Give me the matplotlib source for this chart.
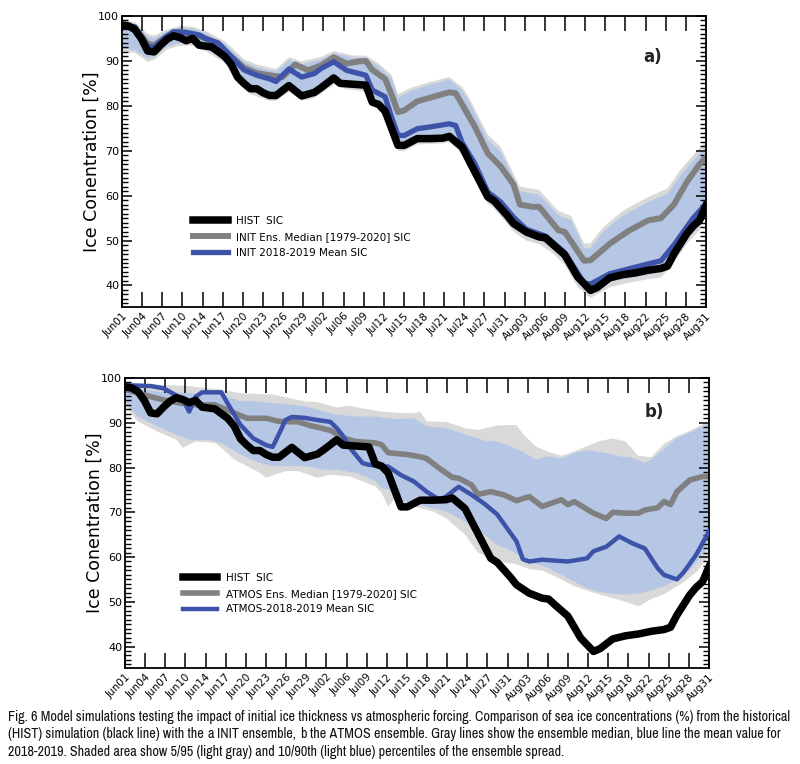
import numpy as np
import matplotlib
matplotlib.use("Agg")
import matplotlib.pyplot as plt
from matplotlib.ticker import MultipleLocator
from matplotlib import font_manager

# ---------------- data (day index 0 = Jun01 ... 91 = Aug31) ----------------
tick_labels = ["Jun01", "Jun04", "Jun07", "Jun10", "Jun14", "Jun17", "Jun20", "Jun23",
               "Jun26", "Jun29", "Jul02", "Jul06", "Jul09", "Jul12", "Jul15", "Jul18",
               "Jul21", "Jul24", "Jul27", "Jul31", "Aug03", "Aug06", "Aug09", "Aug12",
               "Aug15", "Aug18", "Aug22", "Aug25", "Aug28", "Aug31"]

hist_day = [0, 1, 2, 3, 4, 5, 6, 7, 8, 9, 10, 11, 12, 14, 16, 17, 18, 19, 20, 21, 22, 23, 24,
            26, 28, 30, 31, 33, 34, 36, 38, 39, 40, 41, 43, 44, 46, 48, 50, 51, 53, 54, 57,
            58, 60, 61, 63, 65, 66, 67, 69, 71, 73, 74, 76, 78, 80, 82, 84, 85, 86, 88, 89,
            90, 91]
hist_val = [98, 97.8, 97, 95, 92.2, 92, 93.5, 94.8, 95.6, 95.2, 94.5, 95, 93.5, 93.1, 91,
            89.3, 86.4, 85, 83.8, 83.8, 82.9, 82.3, 82.3, 84.5, 82.2, 83, 84, 86.2, 85, 84.8,
            84.6, 80.8, 80.3, 78.8, 71.2, 71.2, 72.7, 72.7, 72.8, 73.2, 70.8, 68, 59.7, 58.8,
            55.6, 53.8, 51.9, 50.8, 50.6, 49.3, 46.8, 41.9, 38.9, 39.5, 41.7, 42.4, 42.8,
            43.4, 43.8, 44.3, 47, 51.5, 53.2, 54.5, 57.8]

# panel a: INIT ensemble
init_med_day = [0, 2, 4, 5, 7, 9, 11, 13, 15, 17, 19, 21, 23, 25, 27, 29, 31, 33, 35, 37, 38,
                39, 41, 42, 43, 44, 46, 48, 51, 52, 55, 57, 59, 61, 62, 64, 65, 68, 69, 72,
                73, 76, 79, 82, 84, 86, 88, 90, 91]
init_med_val = [98, 97.3, 93.8, 93.5, 95.5, 96.5, 96, 95, 93.8, 91, 88.5, 87.3, 86.8, 86.4,
                89.2, 87.9, 89, 90.8, 89.4, 89.9, 90, 88, 86, 82.5, 78.6, 79, 81, 81.8, 83,
                82.8, 75.3, 69.4, 66.5, 62.5, 58, 57.5, 57.5, 52.3, 51.9, 45.5, 45.6, 49.3,
                52.2, 54.5, 55, 58, 63, 67, 68.5]

init_mean_day = [0, 2, 4, 5, 7, 8, 10, 12, 13, 15, 17, 19, 21, 23, 24, 26, 28, 30, 31, 33,
                 35, 38, 39, 41, 42, 43, 44, 46, 48, 51, 52, 53, 55, 57, 59, 61, 63, 66, 69,
                 72, 73, 76, 79, 82, 84, 86, 88, 89, 91]
init_mean_val = [98, 97.6, 93.2, 93, 95.5, 96.5, 96.3, 95.8, 95, 94, 91, 88, 86.8, 86, 85.4,
                 88.2, 86.4, 87.2, 88.3, 89.8, 87.9, 86.8, 83.5, 82, 77.5, 73.4, 73.4, 74.9,
                 75.3, 76, 75.6, 71.8, 67.1, 60.8, 58.6, 55.2, 52.5, 51, 47.3, 40.5, 40.3,
                 42.6, 43.7, 44.8, 45.5, 49, 53, 55, 58.2]

init_up_day = [0, 2, 4, 5, 7, 9, 11, 13, 16, 19, 21, 24, 26, 28, 31, 33, 36, 38, 40, 42, 43,
               45, 48, 51, 53, 54, 57, 59, 62, 65, 68, 70, 72, 73, 75, 78, 82, 85, 87, 90, 91]
init_p90 = [98.6, 98.2, 95.5, 95, 96.5, 97.4, 97.2, 96.2, 93.8, 89.8, 88.6, 87.6, 90.2, 89.3,
            90.3, 91.7, 90.7, 90.7, 88.8, 86.2, 81.8, 83.3, 84.7, 85.8, 83.5, 81.2, 72.5,
            69.8, 61, 60.2, 55.6, 54.5, 48.3, 48.3, 52, 55.5, 58.6, 60.4, 64.5, 69.4, 70.8]
init_p95 = [99, 98.6, 96, 95.6, 97, 97.8, 97.6, 96.7, 94.4, 90.4, 89.2, 88.2, 90.8, 89.9,
            90.9, 92.2, 91.2, 91.2, 89.4, 86.9, 82.6, 84, 85.3, 86.4, 84.2, 82, 73.6, 70.8,
            62, 61.3, 56.6, 55.5, 49.3, 49.4, 53, 56.6, 59.7, 61.6, 65.7, 70.6, 72]

init_lo_day = [0, 2, 4, 5, 7, 9, 11, 13, 16, 18, 20, 23, 24, 26, 28, 30, 33, 35, 38, 40, 41,
               43, 44, 46, 50, 51, 53, 57, 58, 61, 63, 65, 67, 69, 71, 73, 76, 79, 82, 84,
               86, 88, 90, 91]
init_p10 = [92.7, 92.4, 90.5, 90.9, 93.1, 94, 94, 92.8, 90.3, 85.8, 83.3, 81.8, 81.8, 83.8,
            81.8, 82.4, 85.4, 84.4, 84, 79.8, 78.3, 70.8, 70.7, 72.2, 72.4, 72.7, 70.2, 59.2,
            58.1, 53, 51, 50.2, 48.4, 45.8, 41, 38.2, 40.8, 41.6, 42.4, 42.9, 46.2, 50.4,
            53.4, 57]
init_p05 = [92, 91.8, 89.8, 90.2, 92.5, 93.4, 93.4, 92.2, 89.6, 85, 82.6, 81.1, 81.1, 83.1,
            81.1, 81.7, 84.7, 83.7, 83.2, 79, 77.4, 70, 69.9, 71.4, 71.6, 71.9, 69.3, 58.2,
            57.1, 52, 50, 49.2, 47.3, 44.6, 39.6, 37.2, 39.6, 40.6, 41.4, 41.8, 45, 49.3,
            52.3, 55.8]

# panel b: ATMOS ensemble
atm_med_day = [0, 3, 6, 9, 11, 14, 16, 19, 22, 24, 27, 29, 30, 32, 34, 36, 39, 40, 41, 44,
               46, 47, 49, 51, 52, 54, 55, 57, 59, 61, 63, 65, 68, 69, 70, 73, 75, 76, 78,
               80, 81, 83, 84, 85, 86, 88, 90, 91]
atm_med_val = [97.5, 96.2, 95.1, 94.3, 94, 94, 92.8, 91, 91, 90.3, 90.2, 89.3, 89, 88.3,
               86.6, 85.8, 85.5, 85.1, 83.3, 82.9, 82.4, 82, 79.8, 77.8, 77.6, 76.1, 74,
               74.6, 73.9, 72.6, 73.5, 71.3, 72.8, 71.7, 72.4, 69.8, 68.6, 70, 69.8, 69.8,
               70.5, 71, 72.4, 71.7, 74.6, 77.2, 78, 78]

atm_mean_day = [0, 4, 6, 9, 10, 11, 12, 15, 16, 18, 20, 22, 23, 24, 25, 26, 28, 30, 32, 33,
                34, 35, 37, 38, 41, 43, 45, 47, 49, 50, 52, 54, 56, 58, 59, 61, 62, 63, 65,
                69, 72, 73, 75, 77, 79, 81, 83, 84, 86, 87, 89, 91]
atm_mean_val = [98.4, 98.2, 97.7, 95.3, 92.5, 95.8, 96.8, 96.8, 94.3, 89.5, 86.5, 85, 84.6,
                87.5, 90.6, 91.3, 91.1, 90.6, 90.2, 88.8, 87, 84.5, 81, 80.6, 80.2, 78.3,
                76.9, 74.6, 72.8, 73.5, 75.7, 73.9, 71.9, 69.5, 67.5, 63.5, 59.5, 59, 59.4,
                59, 59.7, 61.3, 62.3, 64.6, 63.1, 61.9, 57.5, 56, 55, 56.5, 60.5, 65.7]

atm_p90_day = [0, 5, 10, 15, 18, 20, 23, 26, 28, 31, 33, 36, 39, 42, 45, 47, 50, 53, 56, 58,
               60, 62, 64, 66, 68, 70, 72, 75, 77, 79, 81, 82, 84, 86, 88, 91]
atm_p90 = [98.3, 97, 96.6, 96.3, 94.8, 94.8, 94.4, 94, 93.7, 92.5, 91.8, 91.4, 91.4, 90.8,
           91, 89.2, 88.8, 87.4, 86, 85.8, 84.8, 83.5, 81.8, 82.5, 82, 83.2, 83.9, 83.2,
           82.5, 82.2, 81, 81.8, 84.2, 86.6, 87.8, 89.8]
atm_p95_day = [0, 5, 10, 15, 18, 23, 28, 30, 33, 35, 37, 40, 43, 45, 46, 47, 50, 53, 55, 58,
               61, 62, 64, 66, 68, 70, 72, 74, 76, 78, 80, 82, 84, 86, 88, 91]
atm_p95 = [98.8, 98.5, 98.2, 97.4, 96.6, 96.3, 94.8, 94.6, 93.4, 93.8, 93.2, 92.5, 92.2,
           92.1, 92.5, 90.3, 90.2, 88.8, 88.4, 89.4, 89.5, 87.5, 84.7, 83.5, 82.6, 83.6,
           84.8, 85.9, 86.5, 85.8, 82.6, 82.3, 85.3, 87, 88.2, 90.4]

atm_p10_day = [0, 2, 5, 8, 10, 13, 15, 18, 21, 23, 28, 31, 33, 35, 36, 39, 40, 41, 43, 45,
               48, 50, 53, 56, 58, 60, 62, 64, 66, 68, 70, 72, 74, 76, 78, 80, 82, 84, 86,
               88, 90, 91]
atm_p10 = [94.5, 91.4, 89.2, 87.3, 86.2, 86.2, 85.5, 82.9, 81, 80.3, 80.3, 79.5, 79.5, 79,
           78.8, 77, 75.4, 75.1, 72.5, 72, 70.9, 70.2, 67.9, 65, 62.7, 61.5, 59.8, 58.5,
           57.5, 56, 54.5, 53, 52.2, 51.8, 51.6, 51.8, 52.5, 53.5, 55, 57, 60.5, 63]
atm_p05_day = [0, 2, 5, 8, 9, 11, 14, 15, 17, 19, 21, 22, 25, 27, 30, 32, 35, 39, 40, 41,
               42, 45, 48, 50, 53, 55, 58, 61, 63, 65, 68, 70, 73, 76, 78, 80, 82, 84, 87,
               89, 91]
atm_p05 = [93.8, 90.3, 88.1, 86.2, 84.4, 85.8, 85.5, 84.4, 81.8, 80.3, 78.8, 77.7, 79.2,
           79.2, 77.7, 78.4, 78, 75.8, 74.3, 71.2, 73.1, 71.3, 70.2, 68.7, 65, 61, 59, 58.4,
           57.3, 57, 55, 53.5, 52, 50.8, 50, 49, 50.6, 51.7, 54.3, 56.6, 60]

# ---------------- styles ----------------
C_HIST = "black"
C_MED = "#808080"
C_MEAN = "#3d52a9"
C_BLUE_BAND = "#b5c7e4"
C_GRAY_BAND = "#d9d9d9"


def band(ax, d_up, v_up, d_lo, v_lo, color):
    xs = np.concatenate([d_up, d_lo[::-1]])
    ys = np.concatenate([v_up, v_lo[::-1]])
    ax.fill(xs, ys, color=color, lw=0, zorder=1)


def style_axes(ax):
    ax.set_xlim(0, 91)
    ax.set_ylim(35.2, 100)
    ax.set_xticks(np.linspace(0, 91, len(tick_labels)))
    ax.set_xticklabels(tick_labels, rotation=45, ha="right", rotation_mode="anchor")
    ax.yaxis.set_major_locator(MultipleLocator(10))
    ax.yaxis.set_minor_locator(MultipleLocator(1))
    ax.tick_params(axis="x", which="major", direction="in", length=11, width=1.1,
                   top=True, bottom=True, labelsize=7.5, pad=3)
    ax.tick_params(axis="y", which="major", direction="in", length=7, width=1.1,
                   left=True, right=True, labelsize=8, pad=2)
    ax.tick_params(axis="y", which="minor", direction="in", length=4, width=1,
                   left=True, right=True)
    for s in ax.spines.values():
        s.set_linewidth(1.3)
    ax.set_ylabel("Ice Conentration [%]", fontsize=12.5)
    ax.yaxis.set_label_coords(-0.037, 0.5)


fig = plt.figure(figsize=(8, 7.64), dpi=100)
W, H = 800.0, 764.0
ax1 = fig.add_axes([122 / W, 1 - 307 / H, 584 / W, 291 / H])
ax2 = fig.add_axes([125 / W, 1 - 668 / H, 584 / W, 290 / H])

# panel a
band(ax1, np.array(init_up_day), np.array(init_p95), np.array(init_lo_day), np.array(init_p05), C_GRAY_BAND)
band(ax1, np.array(init_up_day), np.array(init_p90), np.array(init_lo_day), np.array(init_p10), C_BLUE_BAND)
ax1.plot(hist_day, hist_val, color=C_HIST, lw=5.4, zorder=4, label="HIST  SIC")
ax1.plot(init_med_day, init_med_val, color=C_MED, lw=4.3, zorder=2,
         label="INIT Ens. Median [1979-2020] SIC")
ax1.plot(init_mean_day, init_mean_val, color=C_MEAN, lw=3.8, zorder=3,
         label="INIT 2018-2019 Mean SIC")
style_axes(ax1)
ax1.text(0.909, 0.86, "a)", transform=ax1.transAxes, fontsize=12, fontweight="bold",
         ha="center", va="center", color="#222222")
ax1.legend(loc="lower left", bbox_to_anchor=(0.122, 0.17), frameon=False, fontsize=7.5,
           handlelength=3.3, handletextpad=0.8, labelspacing=0.55, borderpad=0,
           borderaxespad=0)

# panel b
band(ax2, np.array(atm_p95_day), np.array(atm_p95), np.array(atm_p05_day), np.array(atm_p05), C_GRAY_BAND)
band(ax2, np.array(atm_p90_day), np.array(atm_p90), np.array(atm_p10_day), np.array(atm_p10), C_BLUE_BAND)
ax2.plot(hist_day, hist_val, color=C_HIST, lw=5.4, zorder=4, label="HIST  SIC")
ax2.plot(atm_med_day, atm_med_val, color=C_MED, lw=4.0, zorder=2,
         label="ATMOS Ens. Median [1979-2020] SIC")
ax2.plot(atm_mean_day, atm_mean_val, color=C_MEAN, lw=3.2, zorder=3,
         label="ATMOS-2018-2019 Mean SIC")
style_axes(ax2)
ax2.text(0.906, 0.883, "b)", transform=ax2.transAxes, fontsize=12, fontweight="bold",
         ha="center", va="center", color="#222222")
ax2.legend(loc="lower left", bbox_to_anchor=(0.099, 0.185), frameon=False, fontsize=7.5,
           handlelength=3.3, handletextpad=0.8, labelspacing=0.55, borderpad=0,
           borderaxespad=0)

# ---------------- caption ----------------
# prefer a narrow face, the original caption is set in a condensed sans
CAP_FONT = "Roboto"
for f in font_manager.fontManager.ttflist:
    if "Narrow" in f.name or "Condensed" in f.name:
        CAP_FONT = f.name
        break

cap_lines = [
    [("Fig. 6 Model simulations testing the impact of initial ice thickness vs atmospheric forcing.", True),
     (" Comparison of sea ice concentrations (%) from the historical", False)],
    [("(HIST) simulation (black line) with the ", False), ("a", True), (" INIT ensemble, ", False),
     ("b", True), (" the ATMOS ensemble. Gray lines show the ensemble median, blue line the mean value for", False)],
    [("2018-2019. Shaded area show 5/95 (light gray) and 10/90th (light blue) percentiles of the ensemble spread.", False)],
]
cap_y = [717, 734, 752]
cap_x0, cap_x1 = 8, 784
renderer = fig.canvas.get_renderer()


def draw_line(runs, y, size):
    # spaces at run edges are swapped for NBSP-free gaps measured from the font
    sp = size * 100 / 72 * 0.25
    x = cap_x0
    texts = []
    for txt, bold in runs:
        lead = txt.startswith(" ")
        trail = txt.endswith(" ")
        if lead:
            x += sp
        t = fig.text(x / W, 1 - y / H, txt.strip(), fontsize=size,
                     fontweight="bold" if bold else "normal", family=CAP_FONT,
                     va="center", ha="left", color="#111111")
        texts.append(t)
        x = t.get_window_extent(renderer).x1
        if trail:
            x += sp
    return texts, x


size0 = 8.0
tmp, xend = draw_line(cap_lines[0], cap_y[0], size0)
for t in tmp:
    t.remove()
cap_size = size0 * (cap_x1 - cap_x0) / (xend - cap_x0)
for runs, y in zip(cap_lines, cap_y):
    draw_line(runs, y, cap_size)

fig.savefig("out.png", dpi=100)
